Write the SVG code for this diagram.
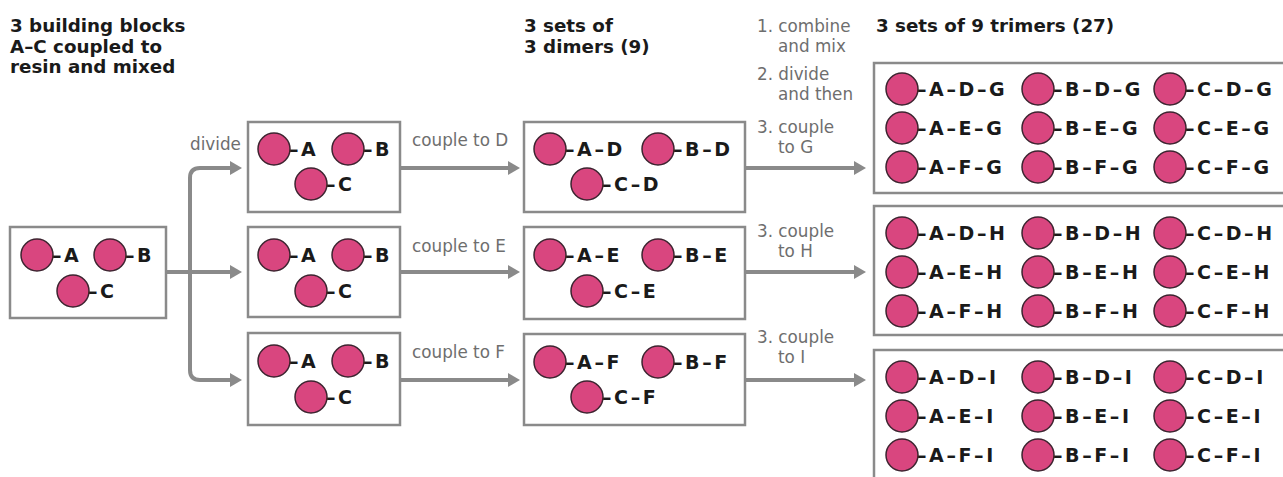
<svg xmlns="http://www.w3.org/2000/svg" width="1283" height="477" viewBox="0 0 1283 477">
<style>
.box{fill:#fff;stroke:#8a8a8a;stroke-width:2.5}
.bead{fill:#d9467f;stroke:#3d2430;stroke-width:1.5}
.lbl{font-family:"DejaVu Sans",sans-serif;font-weight:bold;font-size:19px;fill:#1a1a1a;letter-spacing:2.6px}
.hd{font-family:"DejaVu Sans",sans-serif;font-weight:bold;font-size:18.3px;fill:#1a1a1a}
.gr{font-family:"DejaVu Sans",sans-serif;font-size:16.8px;fill:#6e6e6e}
.arr{fill:none;stroke:#8a8a8a;stroke-width:4;marker-end:url(#ah)}
.ln{fill:none;stroke:#8a8a8a;stroke-width:4}
</style>
<defs>
<marker id="ah" viewBox="0 0 12 14" markerWidth="12" markerHeight="14" refX="8" refY="7" orient="auto" markerUnits="userSpaceOnUse">
<path d="M0,0 L12,7 L0,14 z" fill="#8a8a8a"/>
</marker>
</defs>
<rect width="1283" height="477" fill="#fff"/>

<g id="headers">
<text class="hd" x="10" y="32">3 building blocks</text>
<text class="hd" x="10" y="53">A–C coupled to</text>
<text class="hd" x="10" y="73">resin and mixed</text>
<text class="hd" x="524" y="32">3 sets of</text>
<text class="hd" x="524" y="53">3 dimers (9)</text>
<text class="hd" x="876" y="32">3 sets of 9 trimers (27)</text>
</g>

<g id="connectors">
<path class="ln" d="M166,272 H190"/>
<path class="arr" d="M166,272 H238"/>
<path class="arr" d="M190,272 V178 Q190,168 200,168 H238"/>
<path class="arr" d="M190,272 V370 Q190,380 200,380 H238"/>
<path class="arr" d="M400,168 H516"/>
<path class="arr" d="M400,272 H516"/>
<path class="arr" d="M400,380 H516"/>
<path class="arr" d="M745,168 H862"/>
<path class="arr" d="M745,272 H862"/>
<path class="arr" d="M745,380 H862"/>
</g>

<g id="labels">
<text class="gr" x="190" y="150">divide</text>
<text class="gr" x="412" y="146">couple to D</text>
<text class="gr" x="412" y="252">couple to E</text>
<text class="gr" x="412" y="358">couple to F</text>
<text class="gr" x="757" y="32">1. combine</text>
<text class="gr" x="778" y="52">and mix</text>
<text class="gr" x="757" y="80">2. divide</text>
<text class="gr" x="778" y="100">and then</text>
<text class="gr" x="757" y="133">3. couple</text>
<text class="gr" x="778" y="153">to G</text>
<text class="gr" x="757" y="237">3. couple</text>
<text class="gr" x="778" y="257">to H</text>
<text class="gr" x="757" y="343">3. couple</text>
<text class="gr" x="778" y="363">to I</text>
</g>

<g id="start">
<rect class="box" x="10" y="227" width="156" height="91"/>
<circle class="bead" cx="37" cy="255" r="16"/><text class="lbl" x="52" y="262">–A</text>
<circle class="bead" cx="110" cy="255" r="16"/><text class="lbl" x="125" y="262">–B</text>
<circle class="bead" cx="73" cy="291" r="16"/><text class="lbl" x="88" y="298">–C</text>
</g>

<g id="split1">
<rect class="box" x="248" y="122" width="152" height="90"/>
<circle class="bead" cx="274" cy="149" r="16"/><text class="lbl" x="289" y="156">–A</text>
<circle class="bead" cx="348" cy="149" r="16"/><text class="lbl" x="363" y="156">–B</text>
<circle class="bead" cx="311" cy="184" r="16"/><text class="lbl" x="326" y="191">–C</text>
</g>
<g id="split2">
<rect class="box" x="248" y="227" width="152" height="90"/>
<circle class="bead" cx="274" cy="255" r="16"/><text class="lbl" x="289" y="262">–A</text>
<circle class="bead" cx="348" cy="255" r="16"/><text class="lbl" x="363" y="262">–B</text>
<circle class="bead" cx="311" cy="291" r="16"/><text class="lbl" x="326" y="298">–C</text>
</g>
<g id="split3">
<rect class="box" x="248" y="333" width="152" height="92"/>
<circle class="bead" cx="274" cy="361" r="16"/><text class="lbl" x="289" y="368">–A</text>
<circle class="bead" cx="348" cy="361" r="16"/><text class="lbl" x="363" y="368">–B</text>
<circle class="bead" cx="311" cy="397" r="16"/><text class="lbl" x="326" y="404">–C</text>
</g>

<g id="dimersD">
<rect class="box" x="524" y="122" width="221" height="90"/>
<circle class="bead" cx="550" cy="149" r="16"/><text class="lbl" x="565" y="156">–A–D</text>
<circle class="bead" cx="658" cy="149" r="16"/><text class="lbl" x="673" y="156">–B–D</text>
<circle class="bead" cx="587" cy="184" r="16"/><text class="lbl" x="602" y="191">–C–D</text>
</g>
<g id="dimersE">
<rect class="box" x="524" y="227" width="221" height="92"/>
<circle class="bead" cx="550" cy="255" r="16"/><text class="lbl" x="565" y="262">–A–E</text>
<circle class="bead" cx="658" cy="255" r="16"/><text class="lbl" x="673" y="262">–B–E</text>
<circle class="bead" cx="587" cy="291" r="16"/><text class="lbl" x="602" y="298">–C–E</text>
</g>
<g id="dimersF">
<rect class="box" x="524" y="334" width="221" height="91"/>
<circle class="bead" cx="550" cy="362" r="16"/><text class="lbl" x="565" y="369">–A–F</text>
<circle class="bead" cx="658" cy="362" r="16"/><text class="lbl" x="673" y="369">–B–F</text>
<circle class="bead" cx="587" cy="397" r="16"/><text class="lbl" x="602" y="404">–C–F</text>
</g>

<g id="trimersG">
<rect class="box" x="874" y="63" width="430" height="130"/>
<circle class="bead" cx="902" cy="89" r="16"/><text class="lbl" x="917" y="96">–A–D–G</text>
<circle class="bead" cx="1038" cy="89" r="16"/><text class="lbl" x="1053" y="96">–B–D–G</text>
<circle class="bead" cx="1170" cy="89" r="16"/><text class="lbl" x="1185" y="96">–C–D–G</text>
<circle class="bead" cx="902" cy="128" r="16"/><text class="lbl" x="917" y="135">–A–E–G</text>
<circle class="bead" cx="1038" cy="128" r="16"/><text class="lbl" x="1053" y="135">–B–E–G</text>
<circle class="bead" cx="1170" cy="128" r="16"/><text class="lbl" x="1185" y="135">–C–E–G</text>
<circle class="bead" cx="902" cy="167" r="16"/><text class="lbl" x="917" y="174">–A–F–G</text>
<circle class="bead" cx="1038" cy="167" r="16"/><text class="lbl" x="1053" y="174">–B–F–G</text>
<circle class="bead" cx="1170" cy="167" r="16"/><text class="lbl" x="1185" y="174">–C–F–G</text>
</g>
<g id="trimersH">
<rect class="box" x="874" y="206" width="430" height="129"/>
<circle class="bead" cx="902" cy="233" r="16"/><text class="lbl" x="917" y="240">–A–D–H</text>
<circle class="bead" cx="1038" cy="233" r="16"/><text class="lbl" x="1053" y="240">–B–D–H</text>
<circle class="bead" cx="1170" cy="233" r="16"/><text class="lbl" x="1185" y="240">–C–D–H</text>
<circle class="bead" cx="902" cy="272" r="16"/><text class="lbl" x="917" y="279">–A–E–H</text>
<circle class="bead" cx="1038" cy="272" r="16"/><text class="lbl" x="1053" y="279">–B–E–H</text>
<circle class="bead" cx="1170" cy="272" r="16"/><text class="lbl" x="1185" y="279">–C–E–H</text>
<circle class="bead" cx="902" cy="311" r="16"/><text class="lbl" x="917" y="318">–A–F–H</text>
<circle class="bead" cx="1038" cy="311" r="16"/><text class="lbl" x="1053" y="318">–B–F–H</text>
<circle class="bead" cx="1170" cy="311" r="16"/><text class="lbl" x="1185" y="318">–C–F–H</text>
</g>
<g id="trimersI">
<rect class="box" x="874" y="350" width="430" height="140"/>
<circle class="bead" cx="902" cy="377" r="16"/><text class="lbl" x="917" y="384">–A–D–I</text>
<circle class="bead" cx="1038" cy="377" r="16"/><text class="lbl" x="1053" y="384">–B–D–I</text>
<circle class="bead" cx="1170" cy="377" r="16"/><text class="lbl" x="1185" y="384">–C–D–I</text>
<circle class="bead" cx="902" cy="416" r="16"/><text class="lbl" x="917" y="423">–A–E–I</text>
<circle class="bead" cx="1038" cy="416" r="16"/><text class="lbl" x="1053" y="423">–B–E–I</text>
<circle class="bead" cx="1170" cy="416" r="16"/><text class="lbl" x="1185" y="423">–C–E–I</text>
<circle class="bead" cx="902" cy="455" r="16"/><text class="lbl" x="917" y="462">–A–F–I</text>
<circle class="bead" cx="1038" cy="455" r="16"/><text class="lbl" x="1053" y="462">–B–F–I</text>
<circle class="bead" cx="1170" cy="455" r="16"/><text class="lbl" x="1185" y="462">–C–F–I</text>
</g>
</svg>
